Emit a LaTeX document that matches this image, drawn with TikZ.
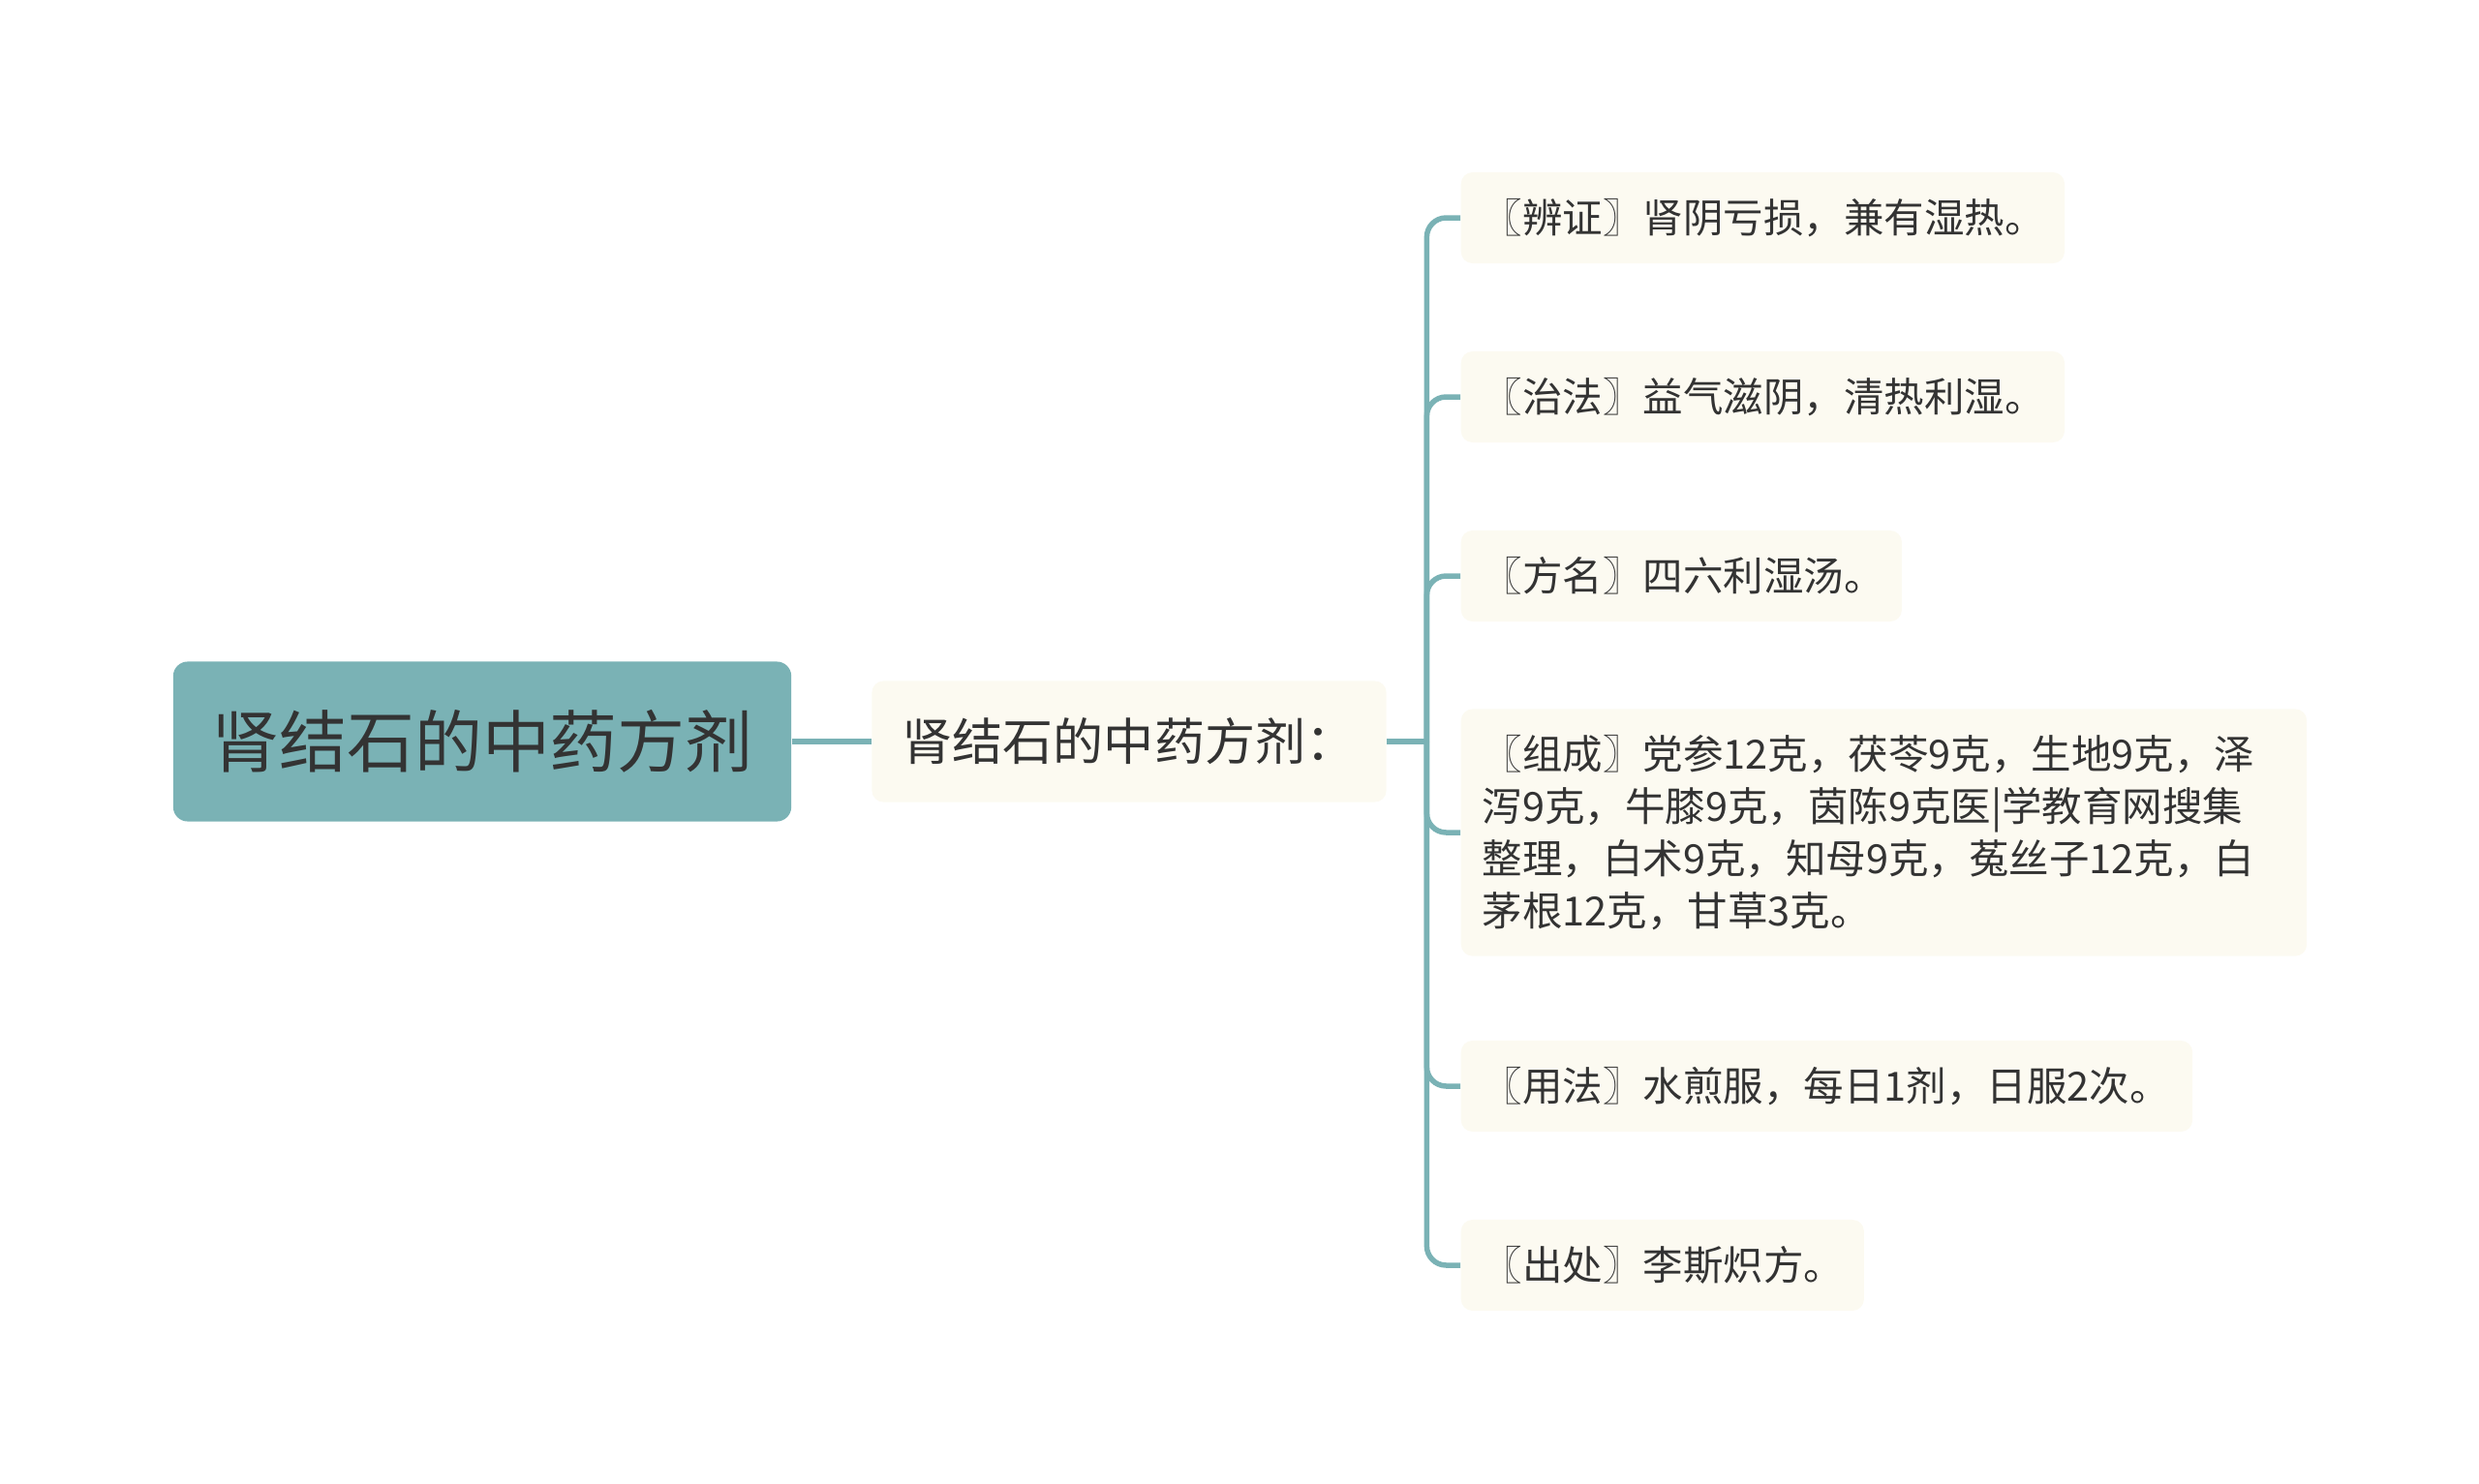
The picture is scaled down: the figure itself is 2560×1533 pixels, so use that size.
\documentclass[tikz,border=0pt]{standalone}
\usepackage{fontspec}
\setmainfont{Noto Sans CJK SC}
\usetikzlibrary{positioning}
\definecolor{mint}{HTML}{7AB2B5}
\definecolor{cream}{HTML}{FCFAF1}
\definecolor{ink}{HTML}{333333}

\begin{document}
\begin{tikzpicture}[x=0.01cm, y=-0.01cm,
root/.style={rectangle, rounded corners=0.15cm, fill=mint, text=ink, minimum width=6.38cm, minimum height=1.65cm, font=\fontsize{19.9}{24}\selectfont},
topic/.style={rectangle, rounded corners=0.12cm, fill=cream, text=ink, minimum width=5.31cm, minimum height=1.25cm, font=\fontsize{14.8}{18}\selectfont},
leaf/.style={rectangle, anchor=west, rounded corners=0.12cm, fill=cream, text=ink, align=left, inner xsep=0.22cm, minimum height=0.94cm, font=\fontsize{11.8}{15.4}\selectfont},
link/.style={draw=mint, line width=0.055cm, rounded corners=0.2cm},
]
\useasboundingbox (0,0) rectangle (2560,1533);

%Nodes
\node [root] (root) at (498,766) {肾结石的中药方剂};
\node [topic] (topic) at (1166,766) {肾结石的中药方剂：};
\node [leaf, text width=5.79cm] (bianzheng) at (1508,225) {〖辨证〗肾阴亏损，兼有湿热。};
\node [leaf, text width=5.79cm] (zhifa) at (1508,410) {〖治法〗益气滋阴，清热利湿。};
\node [leaf, text width=4.11cm] (fangming) at (1508,595) {〖方名〗四六利湿汤。};
\node [leaf, text width=8.29cm, minimum height=2.55cm] (zucheng) at (1508,860) {〖组成〗党参12克，茯苓9克，生地9克，泽\\泻9克，牛膝9克，茵陈9克医|学教育网搜集\\整理，白术9克，知母9克，菟丝子12克，白\\茅根12克，甘草3克。};
\node [leaf, text width=7.11cm] (yongfa) at (1508,1122) {〖用法〗水煎服，每日1剂，日服2次。};
\node [leaf, text width=3.72cm] (chuchu) at (1508,1307) {〖出处〗李斯炽方。};

% Paths
\draw [link] (root.east) -- (topic.west);
\draw [link] (topic.east) -- ++(41,0) coordinate (hub);
\foreach \leafname in {bianzheng, zhifa, fangming, zucheng, yongfa, chuchu}
  \draw [link] (hub) |- (\leafname.west);
\end{tikzpicture}
\end{document}
